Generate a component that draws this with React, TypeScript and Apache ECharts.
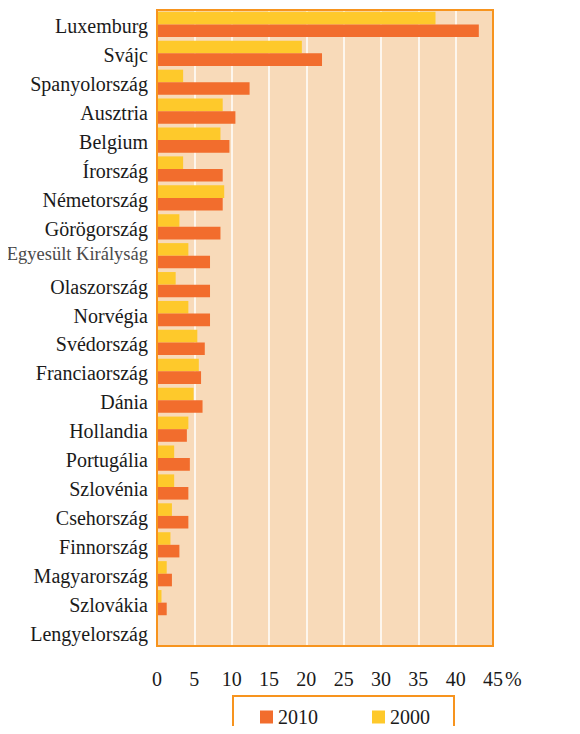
import React, { useEffect, useRef } from "react";
import * as echarts from "echarts";

const countries = [
  "Luxemburg",
  "Svájc",
  "Spanyolország",
  "Ausztria",
  "Belgium",
  "Írország",
  "Németország",
  "Görögország",
  "Egyesült Királyság",
  "Olaszország",
  "Norvégia",
  "Svédország",
  "Franciaország",
  "Dánia",
  "Hollandia",
  "Portugália",
  "Szlovénia",
  "Csehország",
  "Finnország",
  "Magyarország",
  "Szlovákia",
  "Lengyelország",
];

const values2010 = [43.1, 22.1, 12.4, 10.5, 9.7, 8.8, 8.8, 8.5, 7.1, 7.1, 7.1, 6.4, 5.9, 6.1, 4.0, 4.4, 4.2, 4.2, 3.0, 2.0, 1.3, 0];
const values2000 = [37.3, 19.4, 3.5, 8.8, 8.5, 3.5, 9.0, 3.0, 4.2, 2.5, 4.2, 5.4, 5.6, 4.9, 4.2, 2.3, 2.3, 2.0, 1.8, 1.3, 0.6, 0];

const seriesNames = ["2010", "2000"];

const FONT = "'Liberation Serif', 'Times New Roman', serif";
const ORANGE = "#F26D2D";
const YELLOW = "#FEC92B";
const BORDER = "#F7941E";
const PEACH = "#F8DAB9";

export default function App() {
  const ref = useRef<HTMLDivElement>(null);

  useEffect(() => {
    if (!ref.current) return;
    const chart = echarts.init(ref.current, null, { renderer: "svg" });
    chart.setOption({
      animation: false,
      grid: {
        left: 157,
        right: 87,
        top: 10,
        bottom: 88,
        show: true,
        backgroundColor: PEACH,
        borderWidth: 0,
        containLabel: false,
      },
      legend: {
        data: seriesNames,
        left: 255,
        top: 702,
        itemWidth: 13,
        itemHeight: 13,
        itemGap: 54,
        icon: "rect",
        textStyle: { fontFamily: FONT, fontSize: 20, color: "#1a1a1a" },
      },
      xAxis: {
        type: "value",
        min: 0,
        max: 45,
        interval: 5,
        axisLine: { show: false },
        axisTick: { show: false },
        axisLabel: {
          margin: 23,
          fontFamily: FONT,
          fontSize: 20,
          color: "#1a1a1a",
        },
        splitLine: { show: true, lineStyle: { color: "#ffffff", width: 1.5 } },
      },
      yAxis: {
        type: "category",
        inverse: true,
        data: countries,
        axisLine: { show: false },
        axisTick: { show: false },
        axisLabel: {
          margin: 9,
          fontFamily: FONT,
          fontSize: 20,
          color: "#1a1a1a",
          padding: [4, 0, 0, 0],
          formatter: (v: string) => (v === "Egyesült Királyság" ? `{g|${v}}` : v),
          rich: {
            g: {
              fontFamily: FONT,
              fontSize: 18.5,
              color: "#4a4a4a",
              padding: [0, 0, 8, 0],
            },
          },
        },
      },
      series: [
        {
          name: "2000",
          type: "bar",
          data: values2000,
          itemStyle: { color: YELLOW },
          barWidth: 12.6,
          barGap: "0%",
        },
        {
          name: "2010",
          type: "bar",
          data: values2010,
          itemStyle: { color: ORANGE },
          barWidth: 12.6,
          barGap: "0%",
        },
      ],
      graphic: [
        {
          type: "rect",
          z: 100,
          shape: { x: 157, y: 10, width: 336, height: 636 },
          style: { fill: "none", stroke: BORDER, lineWidth: 2 },
        },
        {
          type: "rect",
          z: 100,
          shape: { x: 233, y: 696, width: 221, height: 60 },
          style: { fill: "none", stroke: BORDER, lineWidth: 2 },
        },
        {
          type: "text",
          left: 505,
          top: 669,
          style: { text: "%", fontFamily: FONT, fontSize: 20, fill: "#1a1a1a" },
        },
      ],
    });
    return () => chart.dispose();
  }, []);

  return <div ref={ref} style={{ width: 580, height: 734, margin: -8 }} />;
}
